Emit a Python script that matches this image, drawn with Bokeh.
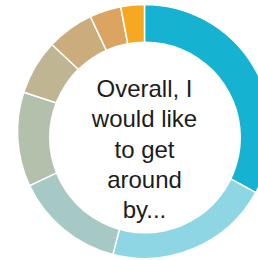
import numpy as np
from bokeh.plotting import figure
from bokeh.models import Range1d, ColumnDataSource
from bokeh.core.properties import value
from bokeh.embed import file_html
from bokeh.resources import INLINE

# Data (shares of the donut, clockwise from 12 o'clock)
categories = ["Mode 1", "Mode 2", "Mode 3", "Mode 4", "Mode 5", "Mode 6", "Mode 7", "Mode 8"]
shares = [33, 21, 14, 12, 7, 6, 4, 3]
colors = ["#15B2D2", "#8ED6E3", "#A6C9C6", "#B3C1AC", "#BFB593", "#CBAC7C", "#DCA461", "#F6A821"]
center_lines = ["Overall, I", "would like", "to get", "around", "by..."]

W, H = 258, 260
p = figure(width=W, height=H, output_backend="svg", toolbar_location=None,
           x_range=Range1d(0, W), y_range=Range1d(0, H), min_border=0)
p.axis.visible = False
p.grid.visible = False
p.outline_line_color = None
p.background_fill_color = "white"
p.border_fill_color = "white"

vals = np.array(shares, dtype=float)
frac = vals / vals.sum()
cum_end = np.cumsum(frac)
cum_start = cum_end - frac
start = np.pi / 2 - 2 * np.pi * cum_start
end = np.pi / 2 - 2 * np.pi * cum_end

src = ColumnDataSource(dict(cat=categories, start=start, end=end, color=colors))
cx, cy = 144, H - 131
p.wedge(x=cx, y=cy, radius=127, start_angle="start", end_angle="end",
        direction="clock", fill_color="color", line_color="white", line_width=1.5,
        source=src)
# inner hole
p.circle(x=[144.5], y=[H - 137], radius=96, fill_color="white", line_color=None)

# centre label
n = len(center_lines)
ys = [H - 88 - 30.3 * i for i in range(n)]
p.text(x=[cx] * n, y=ys, text=center_lines, text_align="center",
       text_baseline="alphabetic", text_font=value("Liberation Sans"),
       text_font_size="24px", text_color="#1c1c1c")

open("out.html", "w").write(file_html(p, INLINE))
